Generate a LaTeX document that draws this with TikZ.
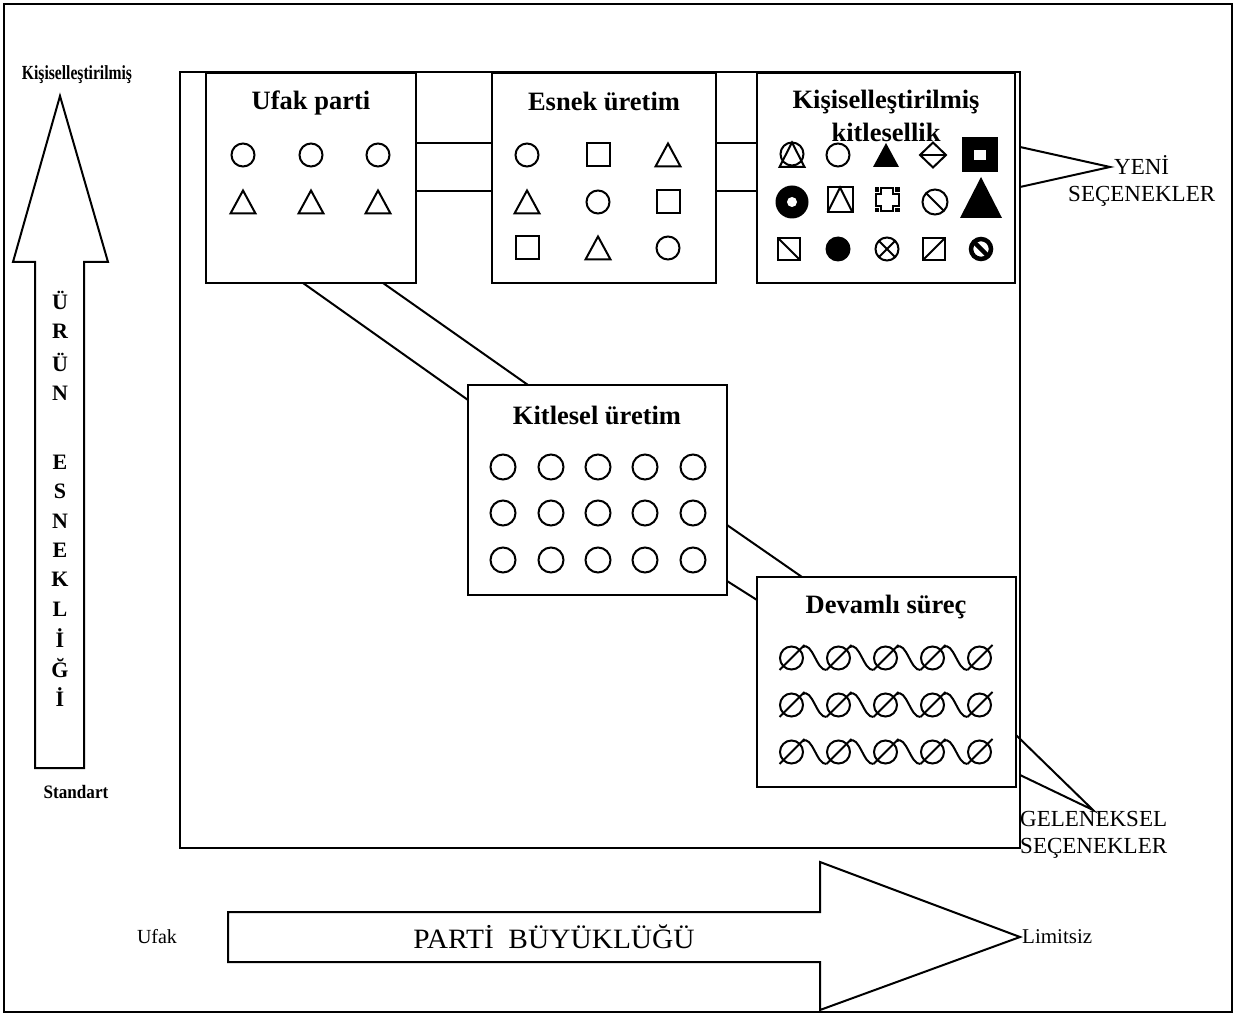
\documentclass[tikz,border=0pt]{standalone}
\usepackage{fontspec}
\setmainfont{Liberation Serif}
\begin{document}
\begin{tikzpicture}[x=1pt,y=-1pt,
 box/.style={draw,line width=2.2pt,inner sep=0pt,outer sep=0pt,fill=white},
 frm/.style={draw,line width=2pt,inner sep=0pt,outer sep=0pt},
 ttl/.style={font=\fontsize{26.5}{33}\selectfont\bfseries,inner sep=0pt,align=center},
 lbl/.style={font=\fontsize{23}{27}\selectfont,inner sep=0pt,align=center},
 vl/.style={font=\fontsize{22}{26}\selectfont\bfseries,inner sep=0pt},
 conn/.style={line width=2pt},
 sym/.style={line width=2pt},
 pics/ocirc/.style={code={\draw[sym] (0,0) circle[radius=11.5];}},
 pics/kcirc/.style={code={\draw[sym] (0,0) circle[radius=12.5];}},
 pics/otri/.style={code={\draw[sym] (-12.5,11.5)--(0,-11.5)--(12.5,11.5)--cycle;}},
 pics/osq/.style={code={\draw[sym] (-11.5,-11.5) rectangle (11.5,11.5);}},
 pics/circtri/.style={code={\draw[sym] (0,-1) circle[radius=11.5]; \draw[sym] (-12.5,12)--(0,-12.5)--(12.5,12)--cycle;}},
 pics/ftri/.style={code={\fill (-13,12)--(0,-12)--(13,12)--cycle;}},
 pics/diam/.style={code={\draw[sym] (0,-12.5)--(13,0)--(0,12.5)--(-13,0)--cycle; \draw[sym] (-13,0)--(13,0);}},
 pics/bigsq/.style={code={\fill (-18,-17.5) rectangle (18,17.5); \fill[white] (-6,-5) rectangle (6,5);}},
 pics/ring/.style={code={\fill (0,0) circle[radius=16.5]; \fill[white] (0,0) circle[radius=5];}},
 pics/sqtri/.style={code={\draw[sym] (-12.5,-12.5) rectangle (12.5,12.5); \draw[sym] (-12.5,12.5)--(0,-12.5)--(12.5,12.5);}},
 pics/notch/.style={code={\draw[sym] (-11.5,-6)--(-6,-6)--(-6,-11.5)--(6,-11.5)--(6,-6)--(11.5,-6)--(11.5,6)--(6,6)--(6,11.5)--(-6,11.5)--(-6,6)--(-11.5,6)--cycle;
   \foreach \sx in {-1,1}{\foreach \sy in {-1,1}{\fill (\sx*12.5,\sy*12.5) rectangle (\sx*8,\sy*8);}}}},
 pics/slcirc/.style={code={\draw[sym] (0,0) circle[radius=12.5]; \draw[sym] (-9,-9)--(9,9);}},
 pics/bigtri/.style={code={\fill (-21,20)--(0,-21)--(21,20)--cycle;}},
 pics/sqdA/.style={code={\draw[sym] (-11,-11) rectangle (11,11); \draw[sym] (-11,-11)--(11,11);}},
 pics/fcirc/.style={code={\fill (0,0) circle[radius=12.5];}},
 pics/xcirc/.style={code={\draw[sym] (0,0) circle[radius=11.5]; \draw[sym] (-8.1,-8.1)--(8.1,8.1) (-8.1,8.1)--(8.1,-8.1);}},
 pics/sqdB/.style={code={\draw[sym] (-11,-11) rectangle (11,11); \draw[sym] (-11,11)--(11,-11);}},
 pics/prohib/.style={code={\draw[line width=4.5pt] (0,0) circle[radius=10]; \draw[line width=4.5pt] (-7,-7)--(7,7);}},
 pics/dev/.style={code={\draw[sym] (0,0) circle[radius=11.5]; \draw[sym] (-12,12)--(13,-13);}},
 pics/wav/.style={code={\draw[sym] (11,-11) .. controls (21,-17) and (25,13) .. (35,12);}}
]
\useasboundingbox (0,0) rectangle (1236,1016);
% outer frame
\draw[line width=2pt] (4,4) rectangle (1232,1012);
% main frame
\node[frm,minimum width=840,minimum height=776] (frame) at (600,460) {};
% boxes
\node[box,minimum width=210,minimum height=210] (ufak) at (311,178) {};
\node[box,minimum width=224,minimum height=210] (esnek) at (604,178) {};
\node[box,minimum width=258,minimum height=210] (kisi) at (886,178) {};
\node[box,minimum width=259,minimum height=210] (kitle) at (597.5,490) {};
\node[box,minimum width=259,minimum height=210] (devam) at (886.5,682) {};
% titles
\node[ttl] (tufak) at (311,103) {Ufak parti};
\node[ttl] (tesnek) at (604,101) {Esnek üretim};
\node[ttl] (tkisi) at (886,116) {Kişiselleştirilmiş\\kitlesellik};
\node[ttl] (tkitle) at (597,415) {Kitlesel üretim};
\node[ttl] (tdevam) at (886,607) {Devamlı süreç};
% connectors
\draw[conn] ([yshift=35pt]ufak.east) -- ([yshift=35pt]esnek.west);
\draw[conn] ([yshift=-13pt]ufak.east) -- ([yshift=-13pt]esnek.west);
\draw[conn] ([yshift=35pt]esnek.east) -- ([yshift=35pt]kisi.west);
\draw[conn] ([yshift=-13pt]esnek.east) -- ([yshift=-13pt]kisi.west);
\draw[conn] ([xshift=-8pt]ufak.south) -- ([yshift=90pt]kitle.west);
\draw[conn] ([xshift=72pt]ufak.south) -- ([xshift=-69.5pt]kitle.north);
\draw[conn] ([yshift=-35pt]kitle.east) -- ([xshift=-84.5pt]devam.north);
\draw[conn] ([yshift=-91pt]kitle.east) -- ([yshift=82pt]devam.west);
% callouts
\coordinate (yenitip) at (1110,167);
\draw[conn] ([yshift=313pt]frame.east) -- (yenitip) -- ([yshift=273pt]frame.east);
\node[lbl,anchor=west] (yeni) at (1068,181) {YENİ\\SEÇENEKLER};
\coordinate (geltip) at (1093,810);
\draw[conn] ([yshift=-53pt]devam.east) -- (geltip) -- ([yshift=-315pt]frame.east);
\node[lbl,align=left,anchor=west] (gel) at (1020,835) {GELENEKSEL\\SEÇENEKLER};
% Ufak parti symbols
\foreach \x in {243,311,378}{\pic at (\x,155) {ocirc}; \pic at (\x,202) {otri};}
% Esnek uretim symbols
\pic at (527,155) {ocirc}; \pic at (598,155) {osq}; \pic at (668,155) {otri};
\pic at (527,202) {otri}; \pic at (598,202) {ocirc}; \pic at (668,202) {osq};
\pic at (527,248) {osq}; \pic at (598,248) {otri}; \pic at (668,248) {ocirc};
% Kisisellestirilmis symbols
\pic at (792,155) {circtri}; \pic at (838,155) {ocirc}; \pic at (886,155) {ftri};
\pic at (933,155) {diam}; \pic at (980,155) {bigsq};
\pic at (792,202) {ring}; \pic at (840,200) {sqtri}; \pic at (887,200) {notch};
\pic at (935,202) {slcirc}; \pic at (981,198) {bigtri};
\pic at (789,249) {sqdA}; \pic at (838,249) {fcirc}; \pic at (887,249) {xcirc};
\pic at (934,249) {sqdB}; \pic at (981,249) {prohib};
% Kitlesel uretim circles
\foreach \x in {503,551,598,645,693}{\foreach \y in {467,513,560}{\pic at (\x,\y) {kcirc};}}
% Devamli surec
\foreach \y in {658,705,752}{
  \foreach \i in {0,...,4}{\pic at ({791.5+47*\i},\y) {dev};}
  \foreach \i in {0,...,3}{\pic at ({791.5+47*\i},\y) {wav};}
}
% vertical arrow
\draw[line width=2pt,line join=miter] (35,768) -- (35,262) -- (13,262) -- (60,96) -- (108,262) -- (84,262) -- (84,768) -- cycle;
\foreach \l [count=\i from 0] in {Ü,R,Ü,N}{\node[vl] (va\i) at (60,{300+31*\i}) {\l};}
\foreach \l [count=\i from 0] in {E,S,N,E,K,L,İ,Ğ,İ}{\node[vl] (vb\i) at (60,{462+29.4*\i}) {\l};}
\node[font=\fontsize{20}{24}\selectfont\bfseries,inner sep=0pt] (klbl) at (77,75) {\scalebox{0.78}[1]{Kişiselleştirilmiş}};
\node[font=\fontsize{19}{24}\selectfont\bfseries,inner sep=0pt] (slbl) at (76,792) {\scalebox{0.9}[1]{Standart}};
% horizontal arrow
\draw[line width=2pt,line join=miter] (228,912) -- (820,912) -- (820,862) -- (1020,937) -- (820,1010) -- (820,962) -- (228,962) -- cycle;
\node[font=\fontsize{28}{32}\selectfont,inner sep=0pt] (parti) at (554,937) {\scalebox{1.05}[1]{PARTİ\ \ BÜYÜKLÜĞÜ}};
\node[font=\fontsize{20}{24}\selectfont,inner sep=0pt] (ufk) at (157,937) {Ufak};
\node[font=\fontsize{21}{24}\selectfont,inner sep=0pt,anchor=west] (lim) at (1022,937) {Limitsiz};
\end{tikzpicture}
\end{document}
